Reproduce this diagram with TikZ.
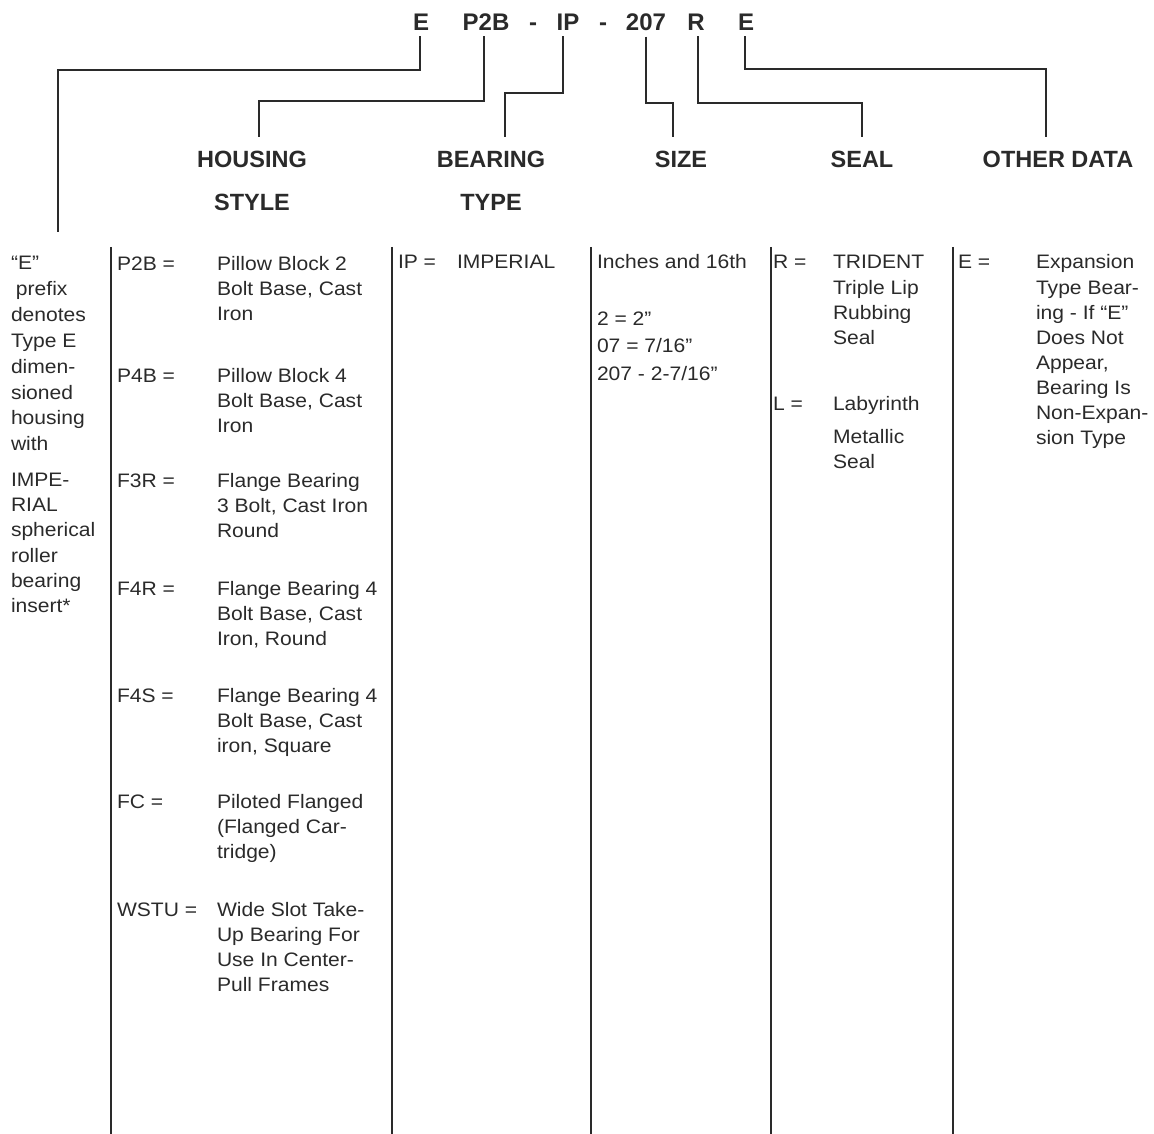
\documentclass[tikz,border=0pt]{standalone}
\usepackage{fontspec}
\setmainfont{Liberation Sans}
\newfontfamily\bodyfont[FakeStretch=1.08]{Liberation Sans}
\newfontfamily\headfont{Liberation Sans}
\definecolor{ink}{HTML}{2A2A2A}
\newcommand\stack[1]{\vtop{\halign{##\hfil\cr#1\crcr}}}
\newcommand\lead[1]{\fontsize{19.5}{#1}\selectfont}
\begin{document}
\begin{tikzpicture}[x=1pt,y=-1pt,
  every node/.style={inner sep=0pt, outer sep=0pt, text=ink},
  code/.style={font=\headfont\bfseries\fontsize{24}{28}\selectfont, anchor=base},
  head/.style={font=\headfont\bfseries\fontsize{23.5}{28}\selectfont, anchor=base},
  body/.style={font=\bodyfont\fontsize{19.5}{25.3}\selectfont, anchor=base west},
  wire/.style={draw=ink, line width=2pt},
  rulel/.style={draw=ink, line width=2pt}]
\useasboundingbox (0,0) rectangle (1154,1134);

% code line
\node[code] (cE)  at (421,30.5) {E};
\node[code] (cP)  at (486,30.5) {P2B};
\node[code] (cd1) at (533,30.5) {-};
\node[code] (cIP) at (568,30.5) {IP};
\node[code] (cd2) at (603,30.5) {-};
\node[code] (cS)  at (646,30.5) {207};
\node[code] (cR)  at (696,30.5) {R};
\node[code] (cE2) at (746,30.5) {E};

% headings
\node[head] (hHousing) at (252,168) {HOUSING};
\node[head] (hStyle)   at (252,211) {STYLE};
\node[head] (hBearing) at (491,168) {BEARING};
\node[head] (hType)    at (491,211) {TYPE};
\node[head] (hSize)    at (681,168) {SIZE};
\node[head] (hSeal)    at (862,168) {SEAL};
\node[head] (hOther)   at (1058,168) {OTHER DATA};

\coordinate (eend) at (58,232);

% connectors
\draw[wire] ([xshift=-1pt,yshift=-6pt]cE.south) -- ++(0,34) -| (eend);
\draw[wire] ([xshift=-2pt,yshift=-6pt]cP.south) -- ++(0,65) -| ([xshift=7pt,yshift=15pt]hHousing.north);
\draw[wire] ([xshift=-5pt,yshift=-6pt]cIP.south) -- ++(0,57) -| ([xshift=14pt,yshift=15pt]hBearing.north);
\draw[wire] ([yshift=-6pt]cS.south) -- ++(0,66) -| ([xshift=-8pt,yshift=15pt]hSize.north);
\draw[wire] ([xshift=2pt,yshift=-6pt]cR.south) -- ++(0,67) -| ([yshift=15pt]hSeal.north);
\draw[wire] ([xshift=-1pt,yshift=-6pt]cE2.south) -- ++(0,33) -| ([xshift=-12pt,yshift=15pt]hOther.north);

% column rules
\foreach \xx in {111,392,591,771,953}
  \draw[rulel] (\xx,247) -- (\xx,1134);

% column 0
\node[body] (l0a) at (11,269.5) {\lead{25.9}\stack{“E”\cr\hskip5pt prefix\cr denotes\cr Type E\cr dimen-\cr sioned\cr housing\cr with}};
\node[body] (l0b) at (11,486.5) {\lead{25.2}\stack{IMPE-\cr RIAL\cr spherical\cr roller\cr bearing\cr insert*}};

% column 1
\node[body] (k1) at (117,270) {P2B =};
\node[body] (d1) at (217,270) {\stack{Pillow Block 2\cr Bolt Base, Cast\cr Iron}};
\node[body] (k2) at (117,382) {P4B =};
\node[body] (d2) at (217,382) {\stack{Pillow Block 4\cr Bolt Base, Cast\cr Iron}};
\node[body] (k3) at (117,487) {F3R =};
\node[body] (d3) at (217,487) {\stack{Flange Bearing\cr 3 Bolt, Cast Iron\cr Round}};
\node[body] (k4) at (117,595) {F4R =};
\node[body] (d4) at (217,595) {\stack{Flange Bearing 4\cr Bolt Base, Cast\cr Iron, Round}};
\node[body] (k5) at (117,702) {F4S =};
\node[body] (d5) at (217,702) {\stack{Flange Bearing 4\cr Bolt Base, Cast\cr iron, Square}};
\node[body] (k6) at (117,808) {FC =};
\node[body] (d6) at (217,808) {\stack{Piloted Flanged\cr (Flanged Car-\cr tridge)}};
\node[body] (k7) at (117,916) {WSTU =};
\node[body] (d7) at (217,916) {\stack{Wide Slot Take-\cr Up Bearing For\cr Use In Center-\cr Pull Frames}};

% column 2
\node[body] (k8) at (398,269) {IP =};
\node[body] (d8) at (457,269) {IMPERIAL};

% column 3
\node[body] (s1) at (597,269) {Inches and 16th};
\node[body] (s2) at (597,325) {2 = 2”};
\node[body] (s3) at (597,352) {07 = 7/16”};
\node[body] (s4) at (597,380) {207 - 2-7/16”};

% column 4
\node[body] (k9) at (773,269) {R =};
\node[body] (d9) at (833,269) {\stack{TRIDENT\cr Triple Lip\cr Rubbing\cr Seal}};
\node[body] (k10) at (773,410) {L =};
\node[body] (d10) at (833,410) {Labyrinth};
\node[body] (d11) at (833,443) {\lead{25}\stack{Metallic\cr Seal}};

% column 5
\node[body] (k12) at (958,269) {E =};
\node[body] (d12) at (1036,269) {\lead{25.1}\stack{Expansion\cr Type Bear-\cr ing - If “E”\cr Does Not\cr Appear,\cr Bearing Is\cr Non-Expan-\cr sion Type}};
\end{tikzpicture}
\end{document}
